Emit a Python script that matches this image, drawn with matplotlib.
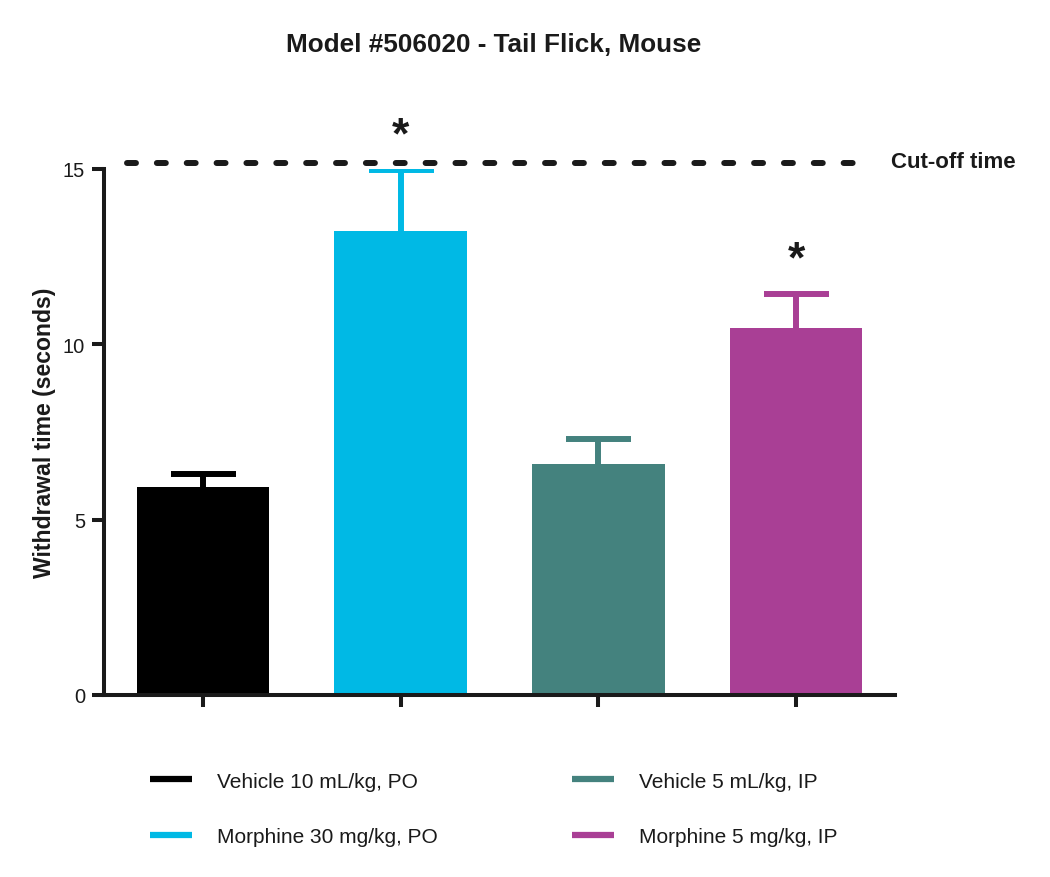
import matplotlib
matplotlib.use("Agg")
import matplotlib.pyplot as plt
from matplotlib.lines import Line2D
import numpy as np

groups = ["Vehicle 10 mL/kg, PO", "Morphine 30 mg/kg, PO",
          "Vehicle 5 mL/kg, IP", "Morphine 5 mg/kg, IP"]
means = [5.93, 13.22, 6.59, 10.46]
sem = [0.36, 1.76, 0.71, 0.97]
colors = ["#000000", "#00B9E5", "#44827E", "#A93F95"]
significant = [False, True, False, True]
cutoff = 15.17
yticks = [0, 5, 10, 15]
title = "Model #506020 - Tail Flick, Mouse"
ylabel = "Withdrawal time (seconds)"
cutoff_label = "Cut-off time"

plt.rcParams['font.family'] = ['Liberation Sans', 'DejaVu Sans']
axc = "#1a1a1a"

fig = plt.figure(figsize=(10.5, 8.78), dpi=100)
ax = fig.add_axes([0.0990, 0.2073, 0.7533, 0.5991])

x = np.arange(len(means))
ax.bar(x, means, width=0.67, color=colors, zorder=2)
for i in range(len(means)):
    _, caps, _ = ax.errorbar(x[i], means[i], yerr=[[0], [sem[i]]],
                             fmt='none', ecolor=colors[i], elinewidth=4.3,
                             capsize=23.4, capthick=4.3, zorder=1)
    caps[0].set_visible(False)
    if significant[i]:
        ax.text(x[i], means[i] + sem[i] + 0.97, "*", ha='center',
                va='center', fontsize=32, fontweight='bold', color=axc,
                clip_on=False)

ax.plot([-0.385, 3.385], [cutoff, cutoff], color=axc, lw=4.3,
        dashes=(1.5, 3.5), dash_capstyle='round', clip_on=False)
ax.text(3.48, cutoff + 0.05, cutoff_label, ha='left', va='center',
        fontsize=16, fontweight='bold', color=axc, clip_on=False)

ax.set_xlim(-0.5, 3.5)
ax.set_ylim(0, 15)
ax.set_yticks(yticks)
ax.set_xticks(x)
ax.set_xticklabels([])
for s in ['top', 'right']:
    ax.spines[s].set_visible(False)
for s in ['left', 'bottom']:
    ax.spines[s].set_linewidth(2.9)
    ax.spines[s].set_color(axc)
ax.tick_params(axis='both', length=8.6, width=2.9, color=axc,
               labelsize=14.5, labelcolor=axc, pad=5)

ax.set_ylabel(ylabel, fontsize=16.6, fontweight='bold', color=axc,
              labelpad=5)
fig.text(0.470, 0.949, title, ha='center', va='center', fontsize=18.8,
         fontweight='bold', color=axc)

handles = [Line2D([], [], color=c, lw=4.5, solid_capstyle='butt')
           for c in colors]
fig.legend(handles, groups, loc='upper left',
           bbox_to_anchor=(0.1332, 0.1320), bbox_transform=fig.transFigure,
           ncol=2, frameon=False, fontsize=15, handlelength=2.0,
           handletextpad=1.2, columnspacing=6.45, labelspacing=1.75,
           borderpad=0, labelcolor=axc)

fig.savefig("out.png", dpi=100)
